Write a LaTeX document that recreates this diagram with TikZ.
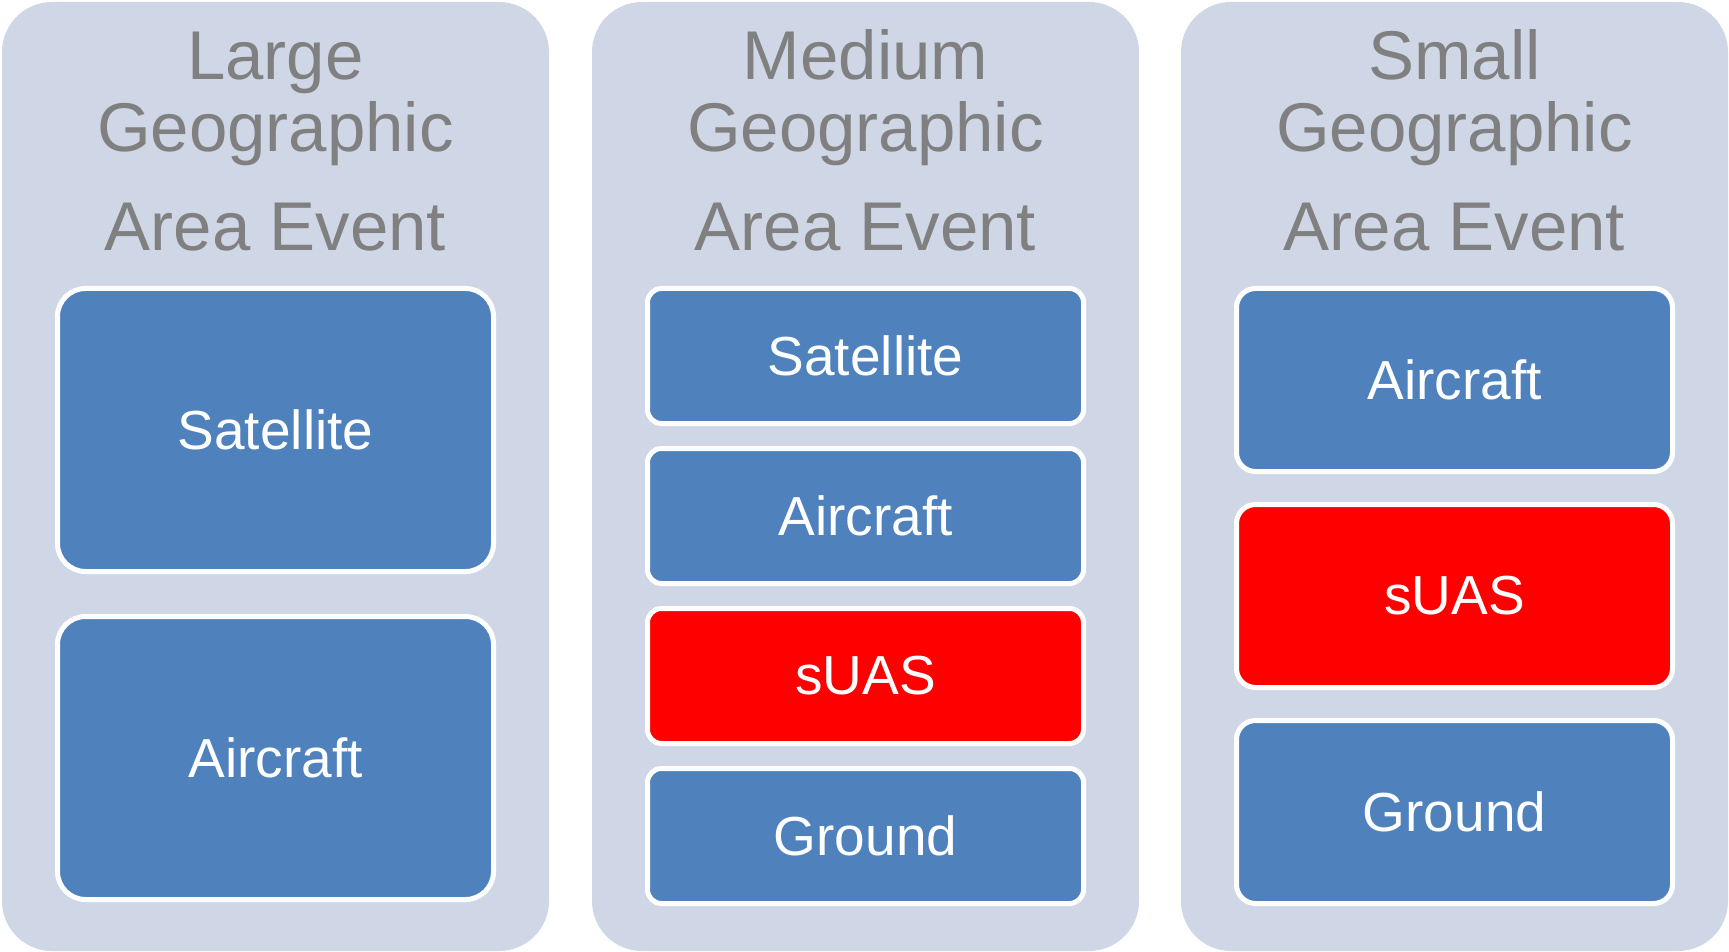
\documentclass[tikz,border=0pt]{standalone}
\usepackage{fontspec}
\setmainfont{Liberation Sans}
\usetikzlibrary{positioning}
\definecolor{panelclr}{RGB}{207,215,230}
\definecolor{techclr}{RGB}{79,129,189}
\definecolor{suasclr}{RGB}{255,0,0}
\definecolor{headclr}{RGB}{128,128,128}
\tikzset{ %
  ,panel/.style={fill=panelclr, rounded corners=25pt, minimum width=273.5pt, minimum height=474.5pt, inner sep=0}
  ,head/.style={text=headclr, align=center, font=\fontsize{34.5}{36}\selectfont, inner sep=0}
  ,tech/.style={draw=white, line width=2.5pt, fill=techclr, text=white, inner sep=0, minimum width=218pt, font=\fontsize{27.5}{33}\selectfont}
  ,suas/.style={tech, fill=suasclr}
  ,hbig/.style={minimum height=141.5pt, rounded corners=14pt, node distance=20pt}
  ,hmid/.style={minimum height=67.5pt, rounded corners=7pt, node distance=10pt}
  ,hsml/.style={minimum height=91.5pt, rounded corners=9.5pt, node distance=14pt}
}

\begin{document}
\begin{tikzpicture}[x=0.5pt, y=-0.5pt]
  \useasboundingbox (0,0) rectangle (1729,952);
  % panels
  \node[panel] (large) at (275.5,476.5) {};
  \node[panel] (medium) at (865.5,476.5) {};
  \node[panel] (small) at (1454.5,476.5) {};
  % headings
  \node[head, anchor=base] (largehd) at (275.5,251) {Large\\Geographic\\[13.5pt]Area Event};
  \node[head, anchor=base] (mediumhd) at (865.5,251) {Medium\\Geographic\\[13.5pt]Area Event};
  \node[head, anchor=base] (smallhd) at (1454.5,251) {Small\\Geographic\\[13.5pt]Area Event};
  % large area
  \node[tech, hbig] (lsat) at (275.5,430) {Satellite};
  \node[tech, hbig, below=of lsat] (lair) {Aircraft};
  % medium area
  \node[tech, hmid] (msat) at (865.5,356) {Satellite};
  \node[tech, hmid, below=of msat] (mair) {Aircraft};
  \node[suas, hmid, below=of mair] (msuas) {sUAS};
  \node[tech, hmid, below=of msuas] (mgnd) {Ground};
  % small area
  \node[tech, hsml] (sair) at (1454.5,380) {Aircraft};
  \node[suas, hsml, below=of sair] (ssuas) {sUAS};
  \node[tech, hsml, below=of ssuas] (sgnd) {Ground};
\end{tikzpicture}
\end{document}
